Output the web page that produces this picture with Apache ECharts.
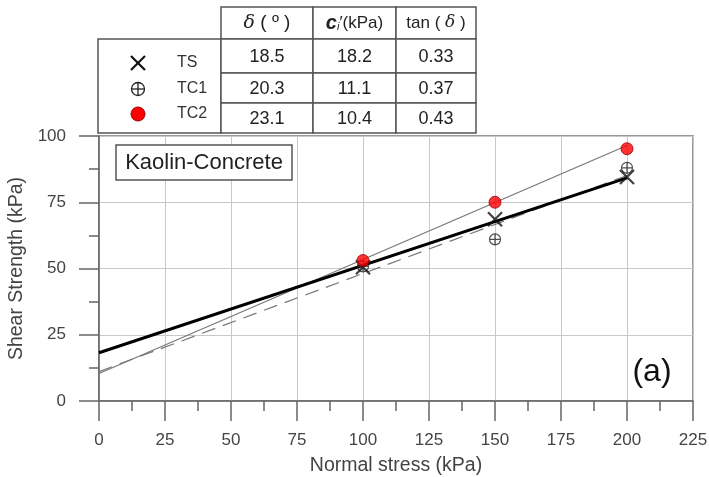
<!DOCTYPE html>
<html><head><meta charset="utf-8">
<script src="https://cdn.jsdelivr.net/npm/echarts@6/dist/echarts.min.js"></script>
<style>html,body{margin:0;padding:0;background:#fff}#c{width:709px;height:477px}</style>
</head><body><div id="c"></div>
<script>
// ---- data ----
var seriesNames = ['TS', 'TC1', 'TC2'];
var normalStress = [100, 150, 200];
var shearTS  = [50.5, 68.6, 84.5];
var shearTC1 = [50.8, 61.0, 88.0];
var shearTC2 = [53.0, 75.0, 95.2];
var fitX   = [0, 200];
var fitTS  = [18.2, 84.2];
var fitTC1 = [11.1, 85.1];
var fitTC2 = [10.4, 96.4];
var tableDelta = ['18.5', '20.3', '23.1'];
var tableC     = ['18.2', '11.1', '10.4'];
var tableTan   = ['0.33', '0.37', '0.43'];
var xTicks = [0, 25, 50, 75, 100, 125, 150, 175, 200, 225];
var yTicks = [0, 25, 50, 75, 100];

var FONT = '"Liberation Sans", Arial, sans-serif';
function pairs(xs, ys) { return xs.map(function (x, i) { return [x, ys[i]]; }); }

var chart = echarts.init(document.getElementById('c'));

var symX   = 'path://M0,0L10,10M10,0L0,10';
var symTC1 = 'path://M0,5A5,5 0 1,1 10,5A5,5 0 1,1 0,5ZM0,5L10,5M5,0L5,10';

// ---- graphic overlay: legend box, table, labels ----
var g = [];
var L = 98, T = 39, R = 221, B = 133;
var cols = [221, 313, 396, 476];
var rows = [7, 39, 73, 103, 133];
var lineC = '#555';
g.push({type:'rect', shape:{x:L, y:T, width:R-L, height:B-T}, style:{fill:'#fff', stroke:lineC, lineWidth:1.5}, z:10});
for (var r = 0; r < 4; r++) {
  for (var c = 0; c < 3; c++) {
    g.push({type:'rect', shape:{x:cols[c], y:rows[r], width:cols[c+1]-cols[c], height:rows[r+1]-rows[r]},
      style:{fill:'#fff', stroke:lineC, lineWidth:1.5}, z:10});
  }
}
var cx = [(cols[0]+cols[1])/2, (cols[1]+cols[2])/2, (cols[2]+cols[3])/2];
var rich = {
  d:{fontStyle:'italic', fontFamily:'"DejaVu Serif", serif', fontSize:19, fill:'#222'},
  dd:{fontStyle:'italic', fontFamily:'"DejaVu Serif", serif', fontSize:17, fill:'#222'},
  c:{fontStyle:'italic', fontWeight:'bold', fontFamily:FONT, fontSize:20, fill:'#222'},
  s:{fontStyle:'italic', fontFamily:FONT, fontSize:11, fill:'#222', padding:[8,0,0,0]},
  n:{fontFamily:FONT, fontSize:17, fill:'#222'}
};
g.push({type:'text', x:cx[0], y:23, z:11, style:{text:'{d|δ} ( º )', font:'19px '+FONT, fill:'#222', align:'center', verticalAlign:'middle', rich:rich}});
g.push({type:'text', x:cx[1], y:23, z:11, style:{text:'{c|c}{s|i}{n|′(kPa)}', font:'17px '+FONT, fill:'#222', align:'center', verticalAlign:'middle', rich:rich}});
g.push({type:'text', x:cx[2], y:23, z:11, style:{text:'tan ( {dd|δ} )', font:'17px '+FONT, fill:'#222', align:'center', verticalAlign:'middle', rich:rich}});
var tableCols = [tableDelta, tableC, tableTan];
for (var i = 0; i < 3; i++) {
  for (var j = 0; j < 3; j++) {
    g.push({type:'text', x:cx[j], y:(rows[i+1]+rows[i+2])/2 + 1, z:11,
      style:{text:tableCols[j][i], font:'18px '+FONT, fill:'#222', align:'center', verticalAlign:'middle'}});
  }
}
var ly = [63, 89, 114], lx = 138, tx = 177;
g.push({type:'line', z:11, shape:{x1:lx-7, y1:ly[0]-7, x2:lx+7, y2:ly[0]+7}, style:{stroke:'#111', lineWidth:2.2}});
g.push({type:'line', z:11, shape:{x1:lx-7, y1:ly[0]+7, x2:lx+7, y2:ly[0]-7}, style:{stroke:'#111', lineWidth:2.2}});
g.push({type:'circle', z:11, shape:{cx:lx, cy:ly[1], r:6.5}, style:{fill:'none', stroke:'#222', lineWidth:1.3}});
g.push({type:'line', z:11, shape:{x1:lx-6.5, y1:ly[1], x2:lx+6.5, y2:ly[1]}, style:{stroke:'#222', lineWidth:1.3}});
g.push({type:'line', z:11, shape:{x1:lx, y1:ly[1]-6.5, x2:lx, y2:ly[1]+6.5}, style:{stroke:'#222', lineWidth:1.3}});
g.push({type:'circle', z:11, shape:{cx:lx, cy:ly[2], r:7}, style:{fill:'#ff0000', stroke:'#900', lineWidth:1}});
for (var k = 0; k < 3; k++) {
  g.push({type:'text', x:tx, y:ly[k], z:11, style:{text:seriesNames[k], font:'16px '+FONT, fill:'#333', align:'left', verticalAlign:'middle'}});
}
g.push({type:'rect', z:11, shape:{x:116, y:145, width:176, height:35}, style:{fill:'#fff', stroke:lineC, lineWidth:1.5}});
g.push({type:'text', z:12, x:204, y:163, style:{text:'Kaolin-Concrete', font:'22px '+FONT, fill:'#222', align:'center', verticalAlign:'middle'}});
g.push({type:'text', z:12, x:652, y:372, style:{text:'(a)', font:'32px '+FONT, fill:'#111', align:'center', verticalAlign:'middle'}});

var axisCommon = {
  axisLine:{show:true, onZero:false, lineStyle:{color:'#666', width:1.5}},
  axisTick:{show:true, inside:false, length:20, lineStyle:{color:'#666', width:1.5}},
  minorTick:{show:true, splitNumber:2, length:10, lineStyle:{color:'#666', width:1.5}},
  splitLine:{show:true, lineStyle:{color:'#c8c8c8', width:1}},
  nameTextStyle:{fontFamily:FONT, fontSize:19.5, color:'#444'}
};

var option = {
  animation:false,
  backgroundColor:'#fff',
  grid:{left:99, right:16, top:136, bottom:76, outerBoundsMode:'none', containLabel:false,
    show:true, borderColor:'#777', borderWidth:1.5, backgroundColor:'transparent'},
  xAxis:Object.assign({}, axisCommon, {
    type:'value', min:xTicks[0], max:xTicks[xTicks.length-1], interval:25,
    name:'Normal stress (kPa)', nameLocation:'middle', nameGap:55,
    axisLabel:{fontFamily:FONT, fontSize:17, color:'#444', margin:31, formatter:function(v){return xTicks.indexOf(v) >= 0 ? String(v) : '';}}
  }),
  yAxis:Object.assign({}, axisCommon, {
    type:'value', min:yTicks[0], max:yTicks[yTicks.length-1], interval:25,
    name:'Shear Strength (kPa)', nameLocation:'middle', nameGap:62,
    axisLabel:{fontFamily:FONT, fontSize:17, color:'#444', margin:33, formatter:function(v){return yTicks.indexOf(v) >= 0 ? String(v) : '';}}
  }),
  series:[
    {name:'TC1 fit', type:'line', data:pairs(fitX, fitTC1), showSymbol:false, symbol:'none', z:2,
      lineStyle:{color:'#777', width:1.2, type:[14,8]}},
    {name:'TC2 fit', type:'line', data:pairs(fitX, fitTC2), showSymbol:false, symbol:'none', z:3,
      lineStyle:{color:'#777', width:1.2}},
    {name:'TS fit', type:'line', data:pairs(fitX, fitTS), showSymbol:false, symbol:'none', z:4,
      lineStyle:{color:'#000', width:3}},
    {name:seriesNames[1], type:'scatter', data:pairs(normalStress, shearTC1), symbol:symTC1, symbolSize:11, z:5,
      itemStyle:{color:'none', borderColor:'#222', borderWidth:1.2}},
    {name:seriesNames[0], type:'scatter', data:pairs(normalStress, shearTS), symbol:symX, symbolSize:14, z:6,
      itemStyle:{color:'none', borderColor:'#111', borderWidth:2.2}},
    {name:seriesNames[2], type:'scatter', data:pairs(normalStress, shearTC2), symbol:'circle', symbolSize:12, z:7,
      itemStyle:{color:'#ff0000', borderColor:'#900', borderWidth:1}}
  ],
  graphic:g
};
chart.setOption(option);
</script>
</body></html>
